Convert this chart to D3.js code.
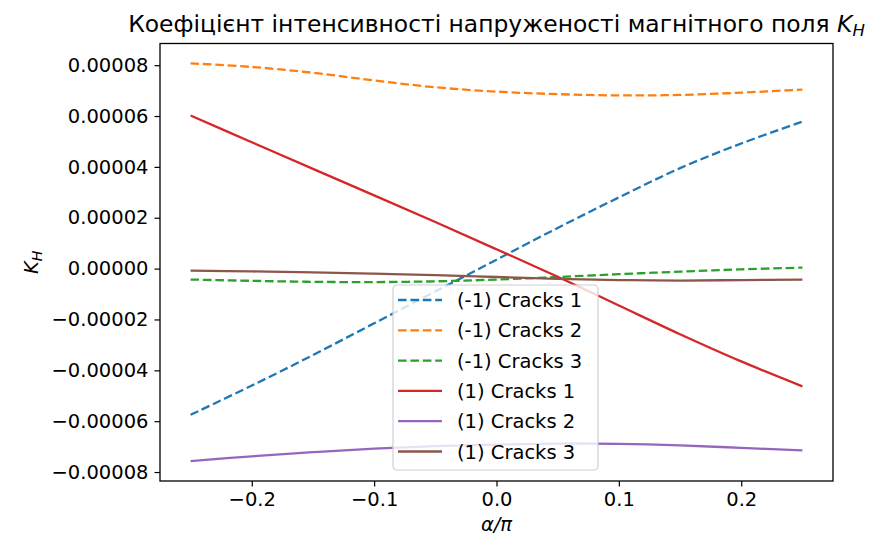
<!DOCTYPE html>
<html>
<head>
<meta charset="utf-8">
<script src="https://cdn.jsdelivr.net/npm/d3@7"></script>
<style>
  body { margin: 0; background: #fff; }
  text { font-family: "DejaVu Sans", sans-serif; fill: #000; }
</style>
</head>
<body>
<div id="chart"></div>
<script>
// alpha / pi
var alpha = [-0.25, -0.2, -0.15, -0.1, -0.05, 0, 0.05, 0.1, 0.15, 0.2, 0.25];

// K_H values, in units of 1e-5
var minus1_cracks1 = [-5.75, -4.6, -3.4, -2.15, -0.9, 0.35, 1.6, 2.8, 3.95, 4.92, 5.78];
var minus1_cracks2 = [8.07, 7.93, 7.7, 7.4, 7.13, 6.96, 6.86, 6.81, 6.83, 6.92, 7.04];
var minus1_cracks3 = [-0.43, -0.48, -0.52, -0.53, -0.5, -0.43, -0.33, -0.22, -0.12, -0.03, 0.04];
var plus1_cracks1 = [6.02, 4.97, 3.92, 2.88, 1.83, 0.76, -0.32, -1.45, -2.58, -3.65, -4.63];
var plus1_cracks2 = [-7.57, -7.38, -7.22, -7.08, -6.98, -6.92, -6.88, -6.89, -6.95, -7.05, -7.15];
var plus1_cracks3 = [-0.08, -0.11, -0.15, -0.2, -0.26, -0.33, -0.4, -0.45, -0.47, -0.45, -0.43];

var seriesNames = ["(-1) Cracks 1", "(-1) Cracks 2", "(-1) Cracks 3", "(1) Cracks 1", "(1) Cracks 2", "(1) Cracks 3"];
var seriesValues = [minus1_cracks1, minus1_cracks2, minus1_cracks3, plus1_cracks1, plus1_cracks2, plus1_cracks3];
var colors = ["#1f77b4", "#ff7f0e", "#2ca02c", "#d62728", "#9467bd", "#8c564b"];
var dashed = [true, true, true, false, false, false];

var xTicks = [-0.2, -0.1, 0.0, 0.1, 0.2];
var yTicks = [-0.00008, -0.00006, -0.00004, -0.00002, 0, 0.00002, 0.00004, 0.00006, 0.00008];

var width = 874, height = 549;
var plotLeft = 160, plotRight = 833, plotTop = 43.5, plotBottom = 481;

var svg = d3.select("#chart").append("svg").attr("width", width).attr("height", height);

var series = seriesValues.map(function(vals, i) {
  return { name: seriesNames[i], color: colors[i], dashed: dashed[i],
    points: vals.map(function(v, j) { return [alpha[j], v * 1e-5]; }) };
});

// matplotlib style 5% margins
var all = [].concat.apply([], series.map(function(s) { return s.points.map(function(p) { return p[1]; }); }));
var ymin = d3.min(all), ymax = d3.max(all), ypad = (ymax - ymin) * 0.05;
var xmin = d3.min(alpha), xmax = d3.max(alpha), xpad = (xmax - xmin) * 0.05;

var x = d3.scaleLinear().domain([xmin - xpad, xmax + xpad]).range([plotLeft, plotRight]);
var y = d3.scaleLinear().domain([ymin - ypad, ymax + ypad]).range([plotBottom, plotTop]);

var line = d3.line().x(function(d) { return x(d[0]); }).y(function(d) { return y(d[1]); })
  .curve(d3.curveCatmullRom.alpha(0.5));

svg.append("g").selectAll("path").data(series).enter().append("path")
  .attr("d", function(d) { return line(d.points); })
  .attr("fill", "none")
  .attr("stroke", function(d) { return d.color; })
  .attr("stroke-width", 2.3)
  .attr("stroke-dasharray", function(d) { return d.dashed ? "8.6,3.8" : null; });

// axes
var minus = function(s) { return s.replace("-", "\u2212"); };
var xAxis = d3.axisBottom(x).tickValues(xTicks).tickSize(5.5).tickPadding(6)
  .tickFormat(function(d) { return minus(d3.format(".1f")(d)); });
var yAxis = d3.axisLeft(y).tickValues(yTicks).tickSize(5.5).tickPadding(6)
  .tickFormat(function(d) { return minus(d3.format(".5f")(d)); });

var gx = svg.append("g").attr("transform", "translate(0," + plotBottom + ")").call(xAxis);
var gy = svg.append("g").attr("transform", "translate(" + plotLeft + ",0)").call(yAxis);
[gx, gy].forEach(function(g) {
  g.select(".domain").remove();
  g.selectAll(".tick line").attr("stroke", "#000").attr("stroke-width", 1.2);
  g.selectAll(".tick text").attr("font-size", 19.5).attr("font-family", null).style("fill", "#000");
});

// frame
svg.append("rect").attr("x", plotLeft).attr("y", plotTop)
  .attr("width", plotRight - plotLeft).attr("height", plotBottom - plotTop)
  .attr("fill", "none").attr("stroke", "#000").attr("stroke-width", 1.3);

// title
var title = svg.append("text").attr("x", (plotLeft + plotRight) / 2).attr("y", 32)
  .attr("text-anchor", "middle").attr("font-size", 23.4);
title.append("tspan").text("Коефіцієнт інтенсивності напруженості магнітного поля ");
title.append("tspan").attr("font-style", "italic").text("K");
title.append("tspan").attr("font-style", "italic").attr("font-size", 16.5).attr("dy", 4).text("H");

// axis labels
svg.append("text").attr("x", (plotLeft + plotRight) / 2).attr("y", 531)
  .attr("text-anchor", "middle").attr("font-size", 19.5).attr("font-style", "italic").text("α/π");

var yl = svg.append("text").attr("transform", "translate(38," + ((plotTop + plotBottom) / 2) + ") rotate(-90)")
  .attr("text-anchor", "middle").attr("font-size", 19.5);
yl.append("tspan").attr("font-style", "italic").text("K");
yl.append("tspan").attr("font-style", "italic").attr("font-size", 14).attr("dy", 4).text("H");

// legend
var lgX = 393, lgY = 285, lgW = 205, lgH = 185, rowH = 30.3;
var lg = svg.append("g").attr("transform", "translate(" + lgX + "," + lgY + ")");
lg.append("rect").attr("width", lgW).attr("height", lgH).attr("rx", 4)
  .attr("fill", "#fff").attr("fill-opacity", 0.8).attr("stroke", "#d0d0d0").attr("stroke-width", 1.2);
var rows = lg.selectAll("g.row").data(series).enter().append("g")
  .attr("transform", function(d, i) { return "translate(0," + (15 + i * rowH) + ")"; });
rows.append("line").attr("x1", 5).attr("x2", 49).attr("y1", 0).attr("y2", 0)
  .attr("stroke", function(d) { return d.color; }).attr("stroke-width", 2.3)
  .attr("stroke-dasharray", function(d) { return d.dashed ? "8.6,3.8" : null; });
rows.append("text").attr("x", 64).attr("y", 7).attr("font-size", 19.5)
  .text(function(d) { return d.name; });
</script>
</body>
</html>
